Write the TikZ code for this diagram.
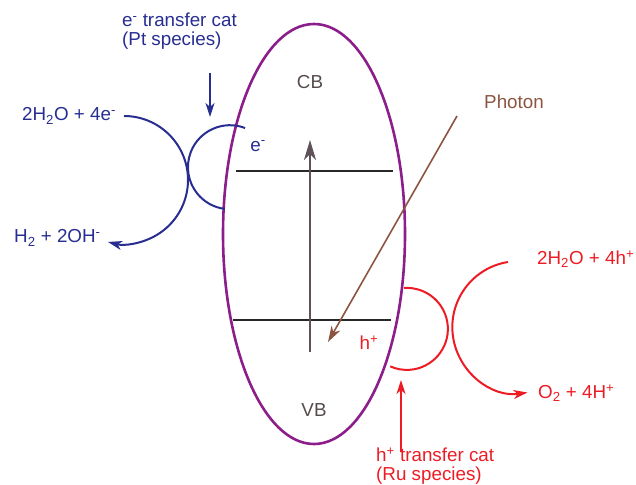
\documentclass[tikz,border=0pt]{standalone}
\usepackage{fontspec}
\setmainfont{Liberation Sans}
\usetikzlibrary{arrows.meta,shapes.geometric}
\definecolor{cblue}{RGB}{40,45,145}
\definecolor{cpurple}{RGB}{140,30,140}
\definecolor{cred}{RGB}{237,28,36}
\definecolor{cbrown}{RGB}{140,85,65}
\definecolor{cgray}{RGB}{85,75,75}
\definecolor{carrow}{RGB}{95,80,90}
\definecolor{cline}{RGB}{40,40,40}
\tikzset{
  txt/.style={inner sep=0pt,font=\fontsize{18.8}{22}\selectfont},
  tip/.style={-{Stealth[length=14pt,width=9pt,inset=4pt]}},
  bigtip/.style={-{Stealth[length=20pt,width=12pt,inset=6pt]}},
}
\begin{document}
\begin{tikzpicture}[x=1pt,y=1pt]
\useasboundingbox (0,0) rectangle (636,-484);
% semiconductor particle
\node[draw=cpurple,line width=2.6pt,ellipse,minimum width=182pt,minimum height=420pt,inner sep=0pt] (sc) at (314,-234) {};
\node[txt,text=cgray] (cb) at (310,-82) {CB};
\node[txt,text=cgray] (vb) at (314,-410) {VB};
% band levels
\coordinate (cbl) at (236,-171);
\coordinate (cbr) at (393,-171);
\coordinate (vbl) at (233,-320);
\coordinate (vbr) at (391,-320);
\draw[cline,line width=1.8pt] (cbl) -- (cbr);
\draw[cline,line width=1.8pt] (vbl) -- (vbr);
% excitation arrow
\coordinate (exb) at (310,-352);
\coordinate (ext) at (310,-140);
\draw[carrow,line width=2pt,bigtip] (exb) -- (ext);
% photon
\node[txt,text=cbrown] (photon) at (514,-102) {Photon};
\coordinate (phs) at (457,-116);
\coordinate (phe) at (328,-342);
\draw[cbrown,line width=1.6pt,-{Stealth[length=16pt,width=10pt,inset=5pt]}] (phs) -- (phe);
% electron side
\node[txt,text=cblue] (em) at (258,-146) {e\textsuperscript{-}};
\node[txt,text=cblue,anchor=west] (ecat1) at (122,-20) {e\textsuperscript{-} transfer cat};
\node[txt,text=cblue,anchor=west] (ecat2) at (122,-41) {(Pt species)};
\coordinate (eas) at (210,-73);
\coordinate (eae) at (210,-117);
\draw[cblue,line width=1.6pt,tip] (eas) -- (eae);
\coordinate (ecs) at (245,-128);
\draw[cblue,line width=2pt] (ecs) arc[start angle=69,end angle=263,radius=42];
\node[txt,text=cblue,anchor=west] (ein) at (22,-116) {2H\textsubscript{2}O + 4e\textsuperscript{-}};
\node[txt,text=cblue,anchor=west] (eout) at (14,-238) {H\textsubscript{2} + 2OH\textsuperscript{-}};
\coordinate (ebs) at (124,-116);
\draw[cblue,line width=2pt,tip] (ebs) arc[start angle=90,end angle=-104.5,radius=64];
% hole side
\node[txt,text=cred] (hp) at (369,-343) {h\textsuperscript{+}};
\node[txt,text=cred,anchor=west] (hcat1) at (376,-455) {h\textsuperscript{+} transfer cat};
\node[txt,text=cred,anchor=west] (hcat2) at (376,-476) {(Ru species)};
\coordinate (has) at (401,-452);
\coordinate (hae) at (401,-380);
\draw[cred,line width=1.6pt,tip] (has) -- (hae);
\coordinate (hcs) at (404,-288);
\draw[cred,line width=2pt] (hcs) arc[start angle=94,end angle=-114,radius=41];
\node[txt,text=cred,anchor=west] (hin) at (537,-259) {2H\textsubscript{2}O + 4h\textsuperscript{+}};
\node[txt,text=cred,anchor=west] (hout) at (538,-393) {O\textsubscript{2} + 4H\textsuperscript{+}};
\coordinate (hbs) at (508,-262);
\draw[cred,line width=2pt,tip] (hbs) arc[start angle=99,end angle=278,radius=66];
\end{tikzpicture}
\end{document}
